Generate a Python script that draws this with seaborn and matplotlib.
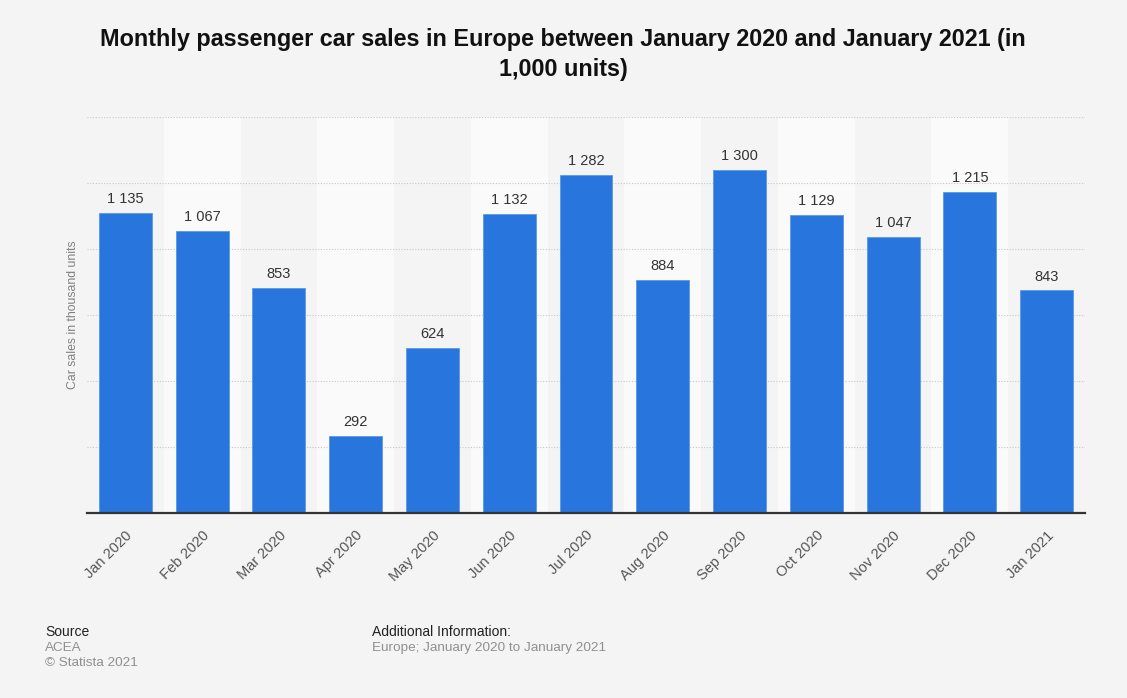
import matplotlib
matplotlib.use("Agg")
import matplotlib.pyplot as plt
import seaborn as sns
import pandas as pd

months = ["Jan 2020", "Feb 2020", "Mar 2020", "Apr 2020", "May 2020", "Jun 2020",
          "Jul 2020", "Aug 2020", "Sep 2020", "Oct 2020", "Nov 2020", "Dec 2020", "Jan 2021"]
sales = [1135, 1067, 853, 292, 624, 1132, 1282, 884, 1300, 1129, 1047, 1215, 843]
yticks = [0, 250, 500, 750, 1000, 1250, 1500]

df = pd.DataFrame({"month": months, "sales": sales})

sns.set_theme(style="white")
plt.rcParams['font.family'] = ['Liberation Sans', 'DejaVu Sans']

bg = "#f4f4f4"
fig = plt.figure(figsize=(11.27, 6.98), dpi=100, facecolor=bg)
ax = fig.add_axes([87/1127, 1 - 513/698, (1085-87)/1127, (513-117)/698])
ax.set_facecolor(bg)

# alternating column bands
for i in range(len(months)):
    if i % 2 == 1:
        ax.axvspan(i - 0.5, i + 0.5, color="#fafafa", zorder=0, lw=0)

sns.barplot(data=df, x="month", y="sales", color="#2876dd", width=0.69,
            saturation=1, ax=ax, zorder=3, edgecolor="#5a9ae8", linewidth=0.6)

ax.set_ylim(0, 1500)
ax.set_xlim(-0.5, len(months) - 0.5)
ax.set_yticks(yticks)
ax.set_yticklabels([])
ax.tick_params(axis="y", length=0, pad=0)
for y in yticks[1:]:
    ax.axhline(y, color="#c8c8c8", lw=0.8, ls=(0, (1, 1.5)), zorder=1)

for sp in ["top", "right", "left"]:
    ax.spines[sp].set_visible(False)
ax.spines["bottom"].set_color("#333333")
ax.spines["bottom"].set_linewidth(1.6)
ax.spines["bottom"].set_zorder(5)

for i, v in enumerate(sales):
    ax.text(i, v + 26, f"{v:,}".replace(",", " "), ha="center", va="bottom",
            fontsize=10.5, color="#333333", zorder=6)

ax.set_xlabel("")
ax.set_ylabel("Car sales in thousand units", fontsize=8.8, color="#808080", labelpad=6)
ax.tick_params(axis="x", length=0, pad=11)
plt.setp(ax.get_xticklabels(), rotation=45, ha="right", rotation_mode="anchor",
         fontsize=10.5, color="#555555")

fig.text(563/1127, 1 - 46/698, "Monthly passenger car sales in Europe between January 2020 and January 2021 (in",
         ha="center", va="baseline", fontsize=16.8, fontweight="bold", color="#111111")
fig.text(563/1127, 1 - 76/698, "1,000 units)",
         ha="center", va="baseline", fontsize=16.8, fontweight="bold", color="#111111")

fig.text(45/1127, 1 - 632/698, "Source", fontsize=10, color="#222222", va="center")
fig.text(45/1127, 1 - 648/698, "ACEA", fontsize=9.7, color="#909090", va="center")
fig.text(45/1127, 1 - 663/698, "© Statista 2021", fontsize=9.7, color="#909090", va="center")
fig.text(372/1127, 1 - 632/698, "Additional Information:", fontsize=10, color="#222222", va="center")
fig.text(372/1127, 1 - 648/698, "Europe; January 2020 to January 2021", fontsize=9.7, color="#909090", va="center")

fig.savefig("out.png", dpi=100, facecolor=bg)
